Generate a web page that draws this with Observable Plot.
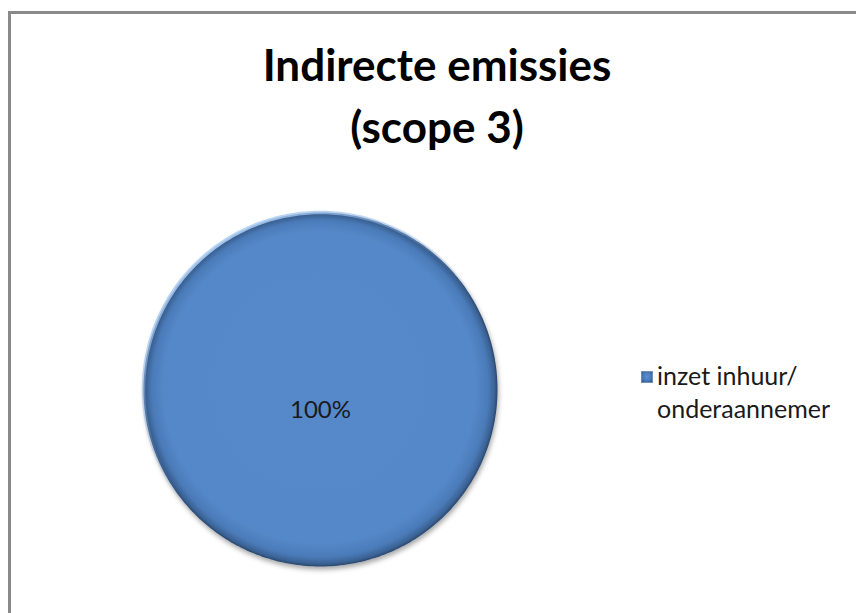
<!DOCTYPE html>
<html>
<head>
<meta charset="utf-8">
<script src="https://cdn.jsdelivr.net/npm/d3@7"></script>
<script src="https://cdn.jsdelivr.net/npm/@observablehq/plot@0.6"></script>
<style>
  html, body { margin: 0; padding: 0; background: #fff; }
  #wrap { position: relative; width: 856px; height: 613px; overflow: hidden; background: #fff; }
  #frame { position: absolute; left: 8px; top: 11px; width: 900px; height: 700px; border-left: 3px solid #8a8a8a; border-top: 3px solid #8a8a8a; }
  #title { position: absolute; left: 0; width: 874px; top: 33px; text-align: center; font-family: Lato, "Open Sans", sans-serif; font-weight: 700; font-size: 44px; line-height: 62px; color: #000; }
  #legend { position: absolute; left: 641px; top: 359px; font-family: Lato, "Open Sans", sans-serif; font-size: 25px; line-height: 33px; color: #1a1a1a; }
  #legend .sw { display: inline-block; width: 10px; height: 10px; margin-right: 4px; vertical-align: 2px;
    background: radial-gradient(circle at 50% 45%, #5b8fd0 0%, #4a7cbd 55%, #2d4f7a 100%); border: 1px solid #6d8fb8; }
  #legend .row2 { padding-left: 16px; }
  #plot { position: absolute; left: 0; top: 0; }
</style>
</head>
<body>
<div id="wrap">
  <div id="frame"></div>
  <div id="plot"></div>
  <div id="title">Indirecte emissies<br>(scope 3)</div>
  <div id="legend"></div>
</div>
<script>
const categories = ["inzet inhuur/ onderaannemer"];
const values = [100];
const labels = ["100%"];

const data = categories.map((c, i) => ({category: c, value: values[i], label: labels[i]}));
const arcs = d3.pie().sort(null).value(d => d.value)(data);

// outline points of each slice on a unit circle (angle 0 at top, clockwise)
const slicePoints = arcs.flatMap(a => {
  const pts = [];
  const full = a.endAngle - a.startAngle >= 2 * Math.PI - 1e-9;
  if (!full) pts.push({category: a.data.category, x: 0, y: 0});
  const n = Math.max(2, Math.ceil((a.endAngle - a.startAngle) / (Math.PI / 180)));
  for (let k = 0; k <= n; k++) {
    const t = a.startAngle + (a.endAngle - a.startAngle) * k / n;
    pts.push({category: a.data.category, x: Math.sin(t), y: Math.cos(t)});
  }
  return pts;
});
const labelPts = arcs.map(a => {
  const m = (a.startAngle + a.endAngle) / 2;
  const full = a.endAngle - a.startAngle >= 2 * Math.PI - 1e-9;
  const rr = full ? 0.12 : 0.6;
  return {label: a.data.label, x: rr * Math.sin(m), y: rr * Math.cos(m)};
});

function defs() {
  const d = d3.create("svg:defs");
  const rg = d.append("radialGradient").attr("id", "pieGrad")
    .attr("cx", 0.5).attr("cy", 0.5).attr("r", 0.5).attr("fx", 0.48).attr("fy", 0.45);
  [[0, "#5689ca"], [0.88, "#5588c8"], [0.95, "#4b7bb9"], [0.985, "#3a6294"], [1, "#2a476c"]]
    .forEach(([o, c]) => rg.append("stop").attr("offset", o).attr("stop-color", c));
  const lg = d.append("linearGradient").attr("id", "hiGrad")
    .attr("x1", 0.2).attr("y1", 0.05).attr("x2", 0.55).attr("y2", 0.55);
  [[0, "#b4d3f8", 0.95], [0.45, "#8fb8ea", 0.5], [1, "#5588c8", 0]]
    .forEach(([o, c, op]) => lg.append("stop").attr("offset", o).attr("stop-color", c).attr("stop-opacity", op));
  const f = d.append("filter").attr("id", "shadow").attr("x", "-10%").attr("y", "-10%").attr("width", "130%").attr("height", "130%");
  f.append("feDropShadow").attr("dx", 1).attr("dy", 3).attr("stdDeviation", 2.5)
    .attr("flood-color", "#000").attr("flood-opacity", 0.35);
  return d.node();
}

const chart = Plot.plot({
  width: 856,
  height: 613,
  marginLeft: 143,
  marginRight: 359,
  marginTop: 212,
  marginBottom: 47,
  x: {domain: [-1, 1], axis: null},
  y: {domain: [-1, 1], axis: null},
  style: {background: "transparent"},
  marks: [
    defs,
    Plot.line(slicePoints, {x: "x", y: "y", z: "category", fill: "url(#pieGrad)", stroke: "none", curve: "linear-closed"}),
    Plot.line(slicePoints, {x: "x", y: "y", z: "category", stroke: "url(#hiGrad)", strokeWidth: 3.5, curve: "linear-closed"}),
    Plot.text(labelPts, {x: "x", y: "y", text: "label", fill: "#1a1a1a", fontSize: 24, fontFamily: "Lato, 'Open Sans', sans-serif"})
  ]
});
d3.select(chart).selectAll("g[aria-label='line']").filter((d, i) => i === 0).attr("filter", "url(#shadow)");
document.getElementById("plot").appendChild(chart);

const lg = document.getElementById("legend");
categories.forEach((c, i) => {
  const parts = c.split(" ");
  const first = parts.slice(0, 2).join(" ");
  const rest = parts.slice(2).join(" ");
  lg.innerHTML += `<div><span class="sw"></span>${first}</div><div class="row2">${rest}</div>`;
});
</script>
</body>
</html>
